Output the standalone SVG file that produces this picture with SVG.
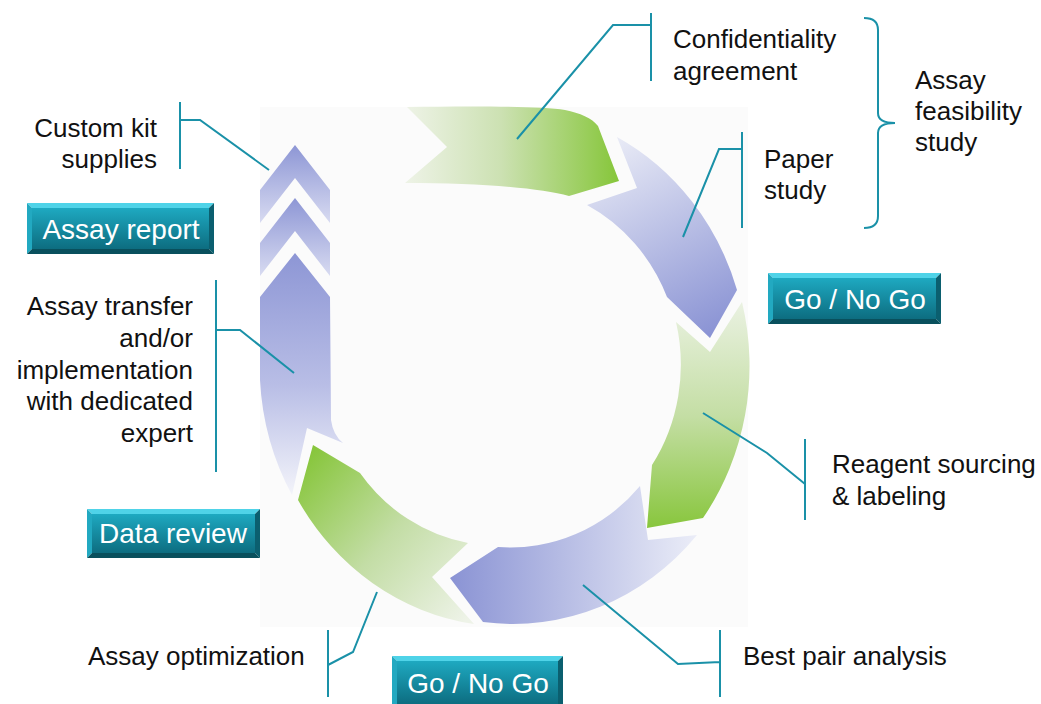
<svg xmlns="http://www.w3.org/2000/svg" width="1041" height="704" viewBox="0 0 1041 704">
<defs>
<linearGradient id="gTop" gradientUnits="userSpaceOnUse" x1="405" y1="0" x2="619" y2="0"><stop offset="0" stop-color="#eef3e7"/><stop offset="0.45" stop-color="#cce1b2"/><stop offset="1" stop-color="#86c63a"/></linearGradient>
<linearGradient id="bTR" gradientUnits="userSpaceOnUse" x1="610" y1="140" x2="712" y2="335"><stop offset="0" stop-color="#e9ebf6"/><stop offset="1" stop-color="#8a93d4"/></linearGradient>
<linearGradient id="gR" gradientUnits="userSpaceOnUse" x1="0" y1="305" x2="0" y2="528"><stop offset="0" stop-color="#e9f1e0"/><stop offset="0.5" stop-color="#c4dea4"/><stop offset="1" stop-color="#88c63d"/></linearGradient>
<linearGradient id="bB" gradientUnits="userSpaceOnUse" x1="450" y1="0" x2="700" y2="0"><stop offset="0" stop-color="#8a93d4"/><stop offset="1" stop-color="#eceef8"/></linearGradient>
<linearGradient id="gBL" gradientUnits="userSpaceOnUse" x1="305" y1="460" x2="475" y2="610"><stop offset="0" stop-color="#88c63d"/><stop offset="0.5" stop-color="#c3dda5"/><stop offset="1" stop-color="#eef3e8"/></linearGradient>
<linearGradient id="bL" gradientUnits="userSpaceOnUse" x1="0" y1="253" x2="0" y2="495"><stop offset="0" stop-color="#8d96d5"/><stop offset="0.55" stop-color="#b9bee6"/><stop offset="1" stop-color="#f3f4fa"/></linearGradient>
<linearGradient id="bC1" gradientUnits="userSpaceOnUse" x1="0" y1="145" x2="0" y2="223"><stop offset="0" stop-color="#8d96d5"/><stop offset="1" stop-color="#d8dbf1"/></linearGradient>
<linearGradient id="bC2" gradientUnits="userSpaceOnUse" x1="0" y1="198" x2="0" y2="276"><stop offset="0" stop-color="#8d96d5"/><stop offset="1" stop-color="#d8dbf1"/></linearGradient>
<linearGradient id="btnFace" x1="0" y1="0" x2="0" y2="1"><stop offset="0" stop-color="#1ea9c1"/><stop offset="1" stop-color="#0d6d80"/></linearGradient>
</defs>
<style>
.lbl{font-family:"Liberation Sans",Arial,sans-serif;font-size:26px;fill:#111}
.btxt{font-family:"Liberation Sans",Arial,sans-serif;font-size:28px;fill:#ffffff}
.con{fill:none;stroke:#1a91a8;stroke-width:2}
.bt{fill:#4fd3e8}.bl{fill:#22a9c1}.br{fill:#0b5f6f}.bb{fill:#09505d}
.face{fill:url(#btnFace)}
</style>
<rect x="260" y="107" width="488" height="520" fill="#fbfbfb"/>
<g id="cycle">
<path d="M407,107 C470,106 540,106 565,110 C580,113 592,118 598,126 L619,181 L569,196 C540,188 480,183 405,183 L447,147 Z" fill="url(#gTop)"/>
<path d="M617,137 A244,259 0 0 1 737,290 L710,338 L667,297 A172,181 0 0 0 587,205 L637,188 Z" fill="url(#bTR)"/>
<path d="M676,322 L710,352 L742,302 A244,259 0 0 1 703,518 L647,528 L652,465 A172,181 0 0 0 676,322 Z" fill="url(#gR)"/>
<path d="M640,486 L648,540 L697,535 A244,259 0 0 1 483,622 L450,578 L498,547 A172,181 0 0 0 640,486 Z" fill="url(#bB)"/>
<path d="M313,445 L360,473 A172,181 0 0 0 468,543 L432,577 L474,624 A244,259 0 0 1 298,500 Z" fill="url(#gBL)"/>
<path d="M295,253 L330,297 L331,420 Q333,435 343,443 L307,428 L292,495 A244,259 0 0 1 260,380 L260,297 Z" fill="url(#bL)"/>
<path d="M295,145 L330,190 L330,223 L295,178 L260,223 L260,190 Z" fill="url(#bC1)"/>
<path d="M295,198 L330,243 L330,276 L295,231 L260,276 L260,243 Z" fill="url(#bC2)"/>
</g>
<g id="connectors">
<path class="con" d="M651,13 V81 M651,25 H613 L517,139"/>
<path class="con" d="M742,132 V228 M742,149 H719 L683,237"/>
<path class="con" d="M864,18 Q878,18 878,30 V113 Q878,123 895,123 Q878,123 878,133 V216 Q878,228 864,228"/>
<path class="con" d="M180,102 V169 M180,120 H200 L269,170"/>
<path class="con" d="M216,280 V472 M216,330 H240 L294,373"/>
<path class="con" d="M805,439 V520 M805,484 L767,453 L703,413"/>
<path class="con" d="M720,630 V697 M720,662 L678,664 L583,585"/>
<path class="con" d="M328,630 V697 M328,665 L353,652 L377,592"/>
</g>
<g id="confidentiality"><text class="lbl" x="673" y="48">Confidentiality</text><text class="lbl" x="673" y="80">agreement</text></g>
<g id="paper-study"><text class="lbl" x="764" y="168">Paper</text><text class="lbl" x="764" y="199">study</text></g>
<g id="feasibility"><text class="lbl" x="915" y="89">Assay</text><text class="lbl" x="915" y="120">feasibility</text><text class="lbl" x="915" y="151">study</text></g>
<g id="custom-kit"><text class="lbl" x="157" y="137" text-anchor="end">Custom kit</text><text class="lbl" x="157" y="168" text-anchor="end">supplies</text></g>
<g id="transfer"><text class="lbl" x="193" y="315" text-anchor="end">Assay transfer</text><text class="lbl" x="193" y="347" text-anchor="end">and/or</text><text class="lbl" x="193" y="379" text-anchor="end">implementation</text><text class="lbl" x="193" y="410" text-anchor="end">with dedicated</text><text class="lbl" x="193" y="442" text-anchor="end">expert</text></g>
<g id="reagent"><text class="lbl" x="832" y="473">Reagent sourcing</text><text class="lbl" x="832" y="505">&amp; labeling</text></g>
<g id="best-pair"><text class="lbl" x="743" y="665">Best pair analysis</text></g>
<g id="optimization"><text class="lbl" x="88" y="665">Assay optimization</text></g>
<g id="btn-assay-report">
<polygon class="bt" points="27,203 214,203 209,208 32,208"/><polygon class="bl" points="27,203 32,208 32,249 27,254"/><polygon class="br" points="214,203 214,254 209,249 209,208"/><polygon class="bb" points="27,254 32,249 209,249 214,254"/>
<rect class="face" x="32" y="208" width="177" height="41"/>
<text class="btxt" x="121" y="239" text-anchor="middle">Assay report</text></g>
<g id="btn-go-1">
<polygon class="bt" points="768,273 941,273 936,278 773,278"/><polygon class="bl" points="768,273 773,278 773,319 768,324"/><polygon class="br" points="941,273 941,324 936,319 936,278"/><polygon class="bb" points="768,324 773,319 936,319 941,324"/>
<rect class="face" x="773" y="278" width="163" height="41"/>
<text class="btxt" x="855" y="309" text-anchor="middle">Go / No Go</text></g>
<g id="btn-data-review">
<polygon class="bt" points="87,509 260,509 255,514 92,514"/><polygon class="bl" points="87,509 92,514 92,553 87,558"/><polygon class="br" points="260,509 260,558 255,553 255,514"/><polygon class="bb" points="87,558 92,553 255,553 260,558"/>
<rect class="face" x="92" y="514" width="163" height="39"/>
<text class="btxt" x="173" y="543" text-anchor="middle">Data review</text></g>
<g id="btn-go-2">
<polygon class="bt" points="392,656 563,656 558,661 397,661"/><polygon class="bl" points="392,656 397,661 397,704 392,704"/><polygon class="br" points="563,656 563,704 558,704 558,661"/>
<rect class="face" x="397" y="661" width="161" height="43"/>
<text class="btxt" x="478" y="693" text-anchor="middle">Go / No Go</text></g>
</svg>
